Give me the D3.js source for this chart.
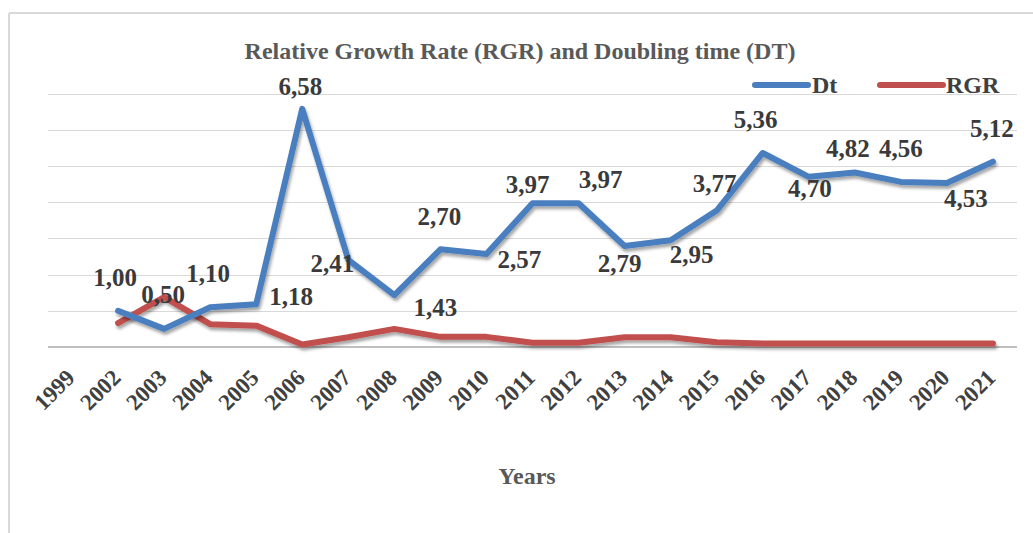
<!DOCTYPE html>
<html>
<head>
<meta charset="utf-8">
<script src="https://cdn.jsdelivr.net/npm/d3@7/dist/d3.min.js"></script>
<style>
  html, body { margin: 0; padding: 0; background: #fff; }
  svg { display: block; }
  text { font-family: "Liberation Serif", "Times New Roman", serif; font-weight: bold; }
</style>
</head>
<body>
<svg id="chart" width="1033" height="533"></svg>
<script>
// ---- data ----
const years = ["1999","2002","2003","2004","2005","2006","2007","2008","2009","2010","2011","2012","2013","2014","2015","2016","2017","2018","2019","2020","2021"];
const dtYears = ["2002","2003","2004","2005","2006","2007","2008","2009","2010","2011","2012","2013","2014","2015","2016","2017","2018","2019","2020","2021"];
const dtValues = [1.00,0.50,1.10,1.18,6.58,2.41,1.43,2.70,2.57,3.97,3.97,2.79,2.95,3.77,5.36,4.70,4.82,4.56,4.53,5.12];
const rgrValues = [0.66,1.38,0.63,0.59,0.07,0.27,0.50,0.28,0.28,0.12,0.12,0.27,0.27,0.13,0.10,0.10,0.10,0.10,0.10,0.10];
const yTicks = [0,1,2,3,4,5,6,7];
const seriesNames = ["Dt","RGR"];
// label offsets (dx, dy) relative to each Dt point – layout only
const labelOffsets = [[-3,-25],[-1,-26],[-2,-25],[35,1],[-2,-14],[-16,12],[41,21],[-1,-24],[33,14],[-5,-10],[22,-15],[-5,26],[21,23],[-2,-19],[-7,-25],[1,20],[-7,-16],[0,-25],[19,24],[-1,-25]];

// ---- layout ----
const svg = d3.select("#chart");
const colors = { Dt: "#4a7ebf", RGR: "#c0504d" };
const plotL = 49, plotR = 1016, plotT = 93.6, plotB = 347;

const x = d3.scaleBand().domain(years).range([plotL, plotR]).padding(0);
const y = d3.scaleLinear().domain([0, 7]).range([plotB, plotT]);
const cx = d => x(d) + x.bandwidth() / 2;

// filter for Excel-like shadow
const defs = svg.append("defs");
const f = defs.append("filter").attr("id", "shadow").attr("x", "-5%").attr("y", "-20%").attr("width", "110%").attr("height", "140%");
f.append("feDropShadow").attr("dx", 1.5).attr("dy", 3).attr("stdDeviation", 1.6)
  .attr("flood-color", "#000").attr("flood-opacity", 0.35);

// outer frame
svg.append("line").attr("x1", 9).attr("x2", 1033).attr("y1", 13).attr("y2", 13).attr("stroke", "#d9d9d9").attr("stroke-width", 2);
svg.append("line").attr("x1", 9).attr("x2", 9).attr("y1", 13).attr("y2", 533).attr("stroke", "#d9d9d9").attr("stroke-width", 2);

// gridlines
svg.append("g").selectAll("line").data(yTicks.filter(t => t > 0)).join("line")
  .attr("x1", plotL - 1).attr("x2", plotR + 1)
  .attr("y1", d => Math.round(y(d)) + 0.5).attr("y2", d => Math.round(y(d)) + 0.5)
  .attr("stroke", "#d9d9d9").attr("stroke-width", 1);

// x axis
const xAxis = svg.append("g").attr("transform", `translate(0,${plotB})`)
  .call(d3.axisBottom(x).tickSize(0).tickPadding(0));
xAxis.select(".domain").attr("stroke", "#bfbfbf").attr("stroke-width", 2).attr("d", `M${plotL - 1},0H${plotR + 1}`);
xAxis.selectAll(".tick text")
  .attr("text-anchor", "end")
  .attr("transform", "translate(4,32) rotate(-45)")
  .attr("dy", 0).attr("y", 0)
  .style("font-family", '"Liberation Serif", "Times New Roman", serif')
  .style("font-weight", "bold")
  .style("font-size", "23px")
  .attr("fill", "#404040");

// lines
const lineGen = vals => d3.line()
  .x((d, i) => cx(dtYears[i]))
  .y(d => y(d))(vals);

svg.append("path").attr("d", lineGen(rgrValues))
  .attr("fill", "none").attr("stroke", colors.RGR).attr("stroke-width", 6)
  .attr("stroke-linejoin", "round").attr("stroke-linecap", "round").attr("filter", "url(#shadow)");

svg.append("path").attr("d", lineGen(dtValues))
  .attr("fill", "none").attr("stroke", colors.Dt).attr("stroke-width", 6)
  .attr("stroke-linejoin", "round").attr("stroke-linecap", "round").attr("filter", "url(#shadow)");

// data labels
svg.append("g").selectAll("text").data(dtValues).join("text")
  .attr("x", (d, i) => cx(dtYears[i]) + labelOffsets[i][0])
  .attr("y", (d, i) => y(d) + labelOffsets[i][1])
  .attr("text-anchor", "middle")
  .attr("font-size", 25)
  .attr("fill", "#3a3a3a")
  .text(d => d.toFixed(2).replace(".", ","));

// title
svg.append("text").attr("x", 520).attr("y", 59).attr("text-anchor", "middle")
  .attr("font-size", 24).attr("fill", "#595959")
  .text("Relative Growth Rate (RGR) and Doubling time (DT)");

// axis title
svg.append("text").attr("x", 527).attr("y", 484).attr("text-anchor", "middle")
  .attr("font-size", 24).attr("fill", "#595959").text("Years");

// legend
const legendPos = [{ x1: 755, x2: 808, tx: 812 }, { x1: 880, x2: 943, tx: 946 }];
const lg = svg.append("g").selectAll("g").data(seriesNames).join("g");
lg.append("line")
  .attr("x1", (d, i) => legendPos[i].x1).attr("x2", (d, i) => legendPos[i].x2)
  .attr("y1", 85).attr("y2", 85)
  .attr("stroke", d => colors[d]).attr("stroke-width", 6).attr("stroke-linecap", "round");
lg.append("text")
  .attr("x", (d, i) => legendPos[i].tx).attr("y", 93)
  .attr("font-size", 24).attr("fill", "#404040").text(d => d);
</script>
</body>
</html>
